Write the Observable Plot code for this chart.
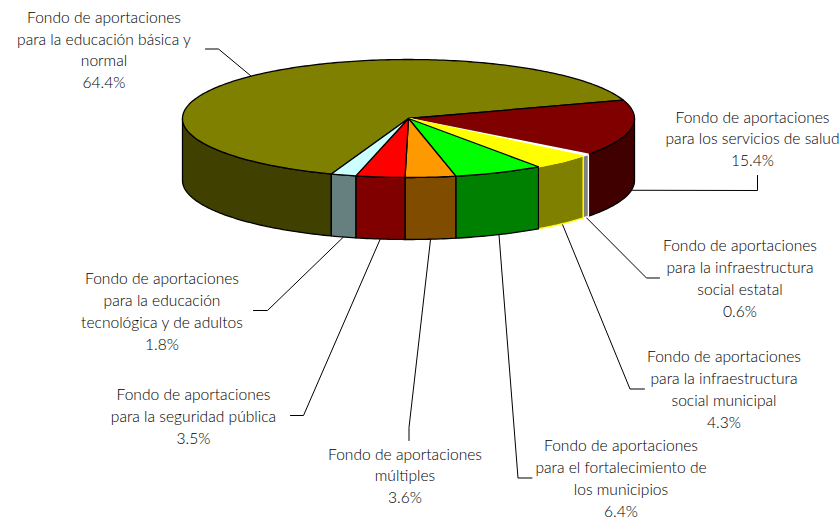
<!DOCTYPE html>
<html><head><meta charset="utf-8">
<script src="https://cdn.jsdelivr.net/npm/d3@7"></script>
<script src="https://cdn.jsdelivr.net/npm/@observablehq/plot@0.6"></script>
<style>html,body{margin:0;padding:0;background:#fff}svg{display:block}</style>
</head><body><div id="chart"></div>
<script>
const categories = [
  "Fondo de aportaciones\npara la educación básica y\nnormal",
  "Fondo de aportaciones\npara los servicios de salud",
  "Fondo de aportaciones\npara la infraestructura\nsocial estatal",
  "Fondo de aportaciones\npara la infraestructura\nsocial municipal",
  "Fondo de aportaciones\npara el fortalecimiento de\nlos municipios",
  "Fondo de aportaciones\nmúltiples",
  "Fondo de aportaciones\npara la seguridad pública",
  "Fondo de aportaciones\npara la educación\ntecnológica y de adultos"
];
const values = [64.4, 15.4, 0.6, 4.3, 6.4, 3.6, 3.5, 1.8];
const topFill = ["#808000","#800000","#ffffff","#ffff00","#00ff00","#ff9900","#ff0000","#ccffff"];
const sideFill = ["#404000","#400000","#808080","#808000","#008000","#804d00","#800000","#668080"];
const outline = ["#000","#000","#fff","#ff0","#000","#000","#000","#000"];
const labelX = [103.5,752,739.5,723.5,620.5,404.5,193,161.5];
const labelY = [48,137,276.5,387.5,476.5,474,414.5,309.5];
const elbows = [
  [[218,48.5],[205,48.5]],
  [[757,190],[757,175]],
  [[646,277.5],[659,277.5]],
  [[629.5,388.5],[644,388.5]],
  [[517.5,477.5],[531.5,477.5]],
  [[408.5,427],[408.5,440]],
  [[303,415],[290,415]],
  [[267,310],[253,310]]
];
const cx = 408, cy = 118, rx = 226, ry = 59, depth = 62, startDeg = 18.2;
const rad = d => d * Math.PI / 180;
const rim = (t, dy = 0) => ({x: cx + rx * Math.cos(rad(t)), y: cy - ry * Math.sin(rad(t)) + dy});
const total = d3.sum(values);
// The first slice runs counter-clockwise back from the start angle; the others clockwise.
const spans = [[startDeg, startDeg + values[0] / total * 360]];
let a = startDeg;
for (let i = 1; i < values.length; i++) { const e = a - values[i] / total * 360; spans.push([a, e]); a = e; }

function arc(t0, t1, dy = 0) {
  const n = Math.max(2, Math.ceil(Math.abs(t1 - t0)));
  return d3.range(n + 1).map(k => rim(t0 + (t1 - t0) * k / n, dy));
}
const tops = [], sides = [], leaders = [];
spans.forEach(([t0, t1], i) => {
  const pts = [{x: cx, y: cy}, ...arc(t0, t1), {x: cx, y: cy}];
  pts.forEach(p => tops.push({...p, key: i, fill: topFill[i], stroke: outline[i]}));
  // visible outer wall: the part of the slice facing the viewer
  const lo = Math.min(t0, t1), hi = Math.max(t0, t1);
  const [s, e] = i === 0 ? [180, hi] : [Math.max(lo, -180), Math.min(hi, 0)];
  const w = [...arc(s, e), ...arc(e, s, depth)];
  w.push(w[0]);
  w.forEach(p => sides.push({...p, key: i, fill: sideFill[i], stroke: outline[i]}));
  const mid = (t0 + t1) / 2;
  const from = i === 0 ? rim(mid) : rim(mid, depth);
  [from, ...elbows[i].map(([x, y]) => ({x, y}))].forEach(p => leaders.push({...p, key: i}));
});
const labels = categories.map((c, i) => ({text: c + "\n" + values[i].toFixed(1) + "%", x: labelX[i], y: labelY[i]}));

const lineOpts = {x: "x", y: "y", z: "key", fill: "fill", stroke: "stroke", strokeWidth: 1.3, strokeLinejoin: "round", curve: "linear"};
document.getElementById("chart").append(Plot.plot({
  width: 840, height: 520,
  margin: 0,
  x: {domain: [0, 840], axis: null},
  y: {domain: [520, 0], axis: null},
  style: {background: "#fff"},
  marks: [
    Plot.line(leaders, {x: "x", y: "y", z: "key", stroke: "#000", strokeWidth: 1, curve: "linear"}),
    Plot.line(sides, lineOpts),
    Plot.line(tops, lineOpts),
    Plot.text(labels, {x: "x", y: "y", text: "text", fontFamily: "Lato", fontWeight: 300, fontSize: 15.6, lineHeight: 1.395, fill: "#000", textAnchor: "middle"})
  ]
}));
</script></body></html>
